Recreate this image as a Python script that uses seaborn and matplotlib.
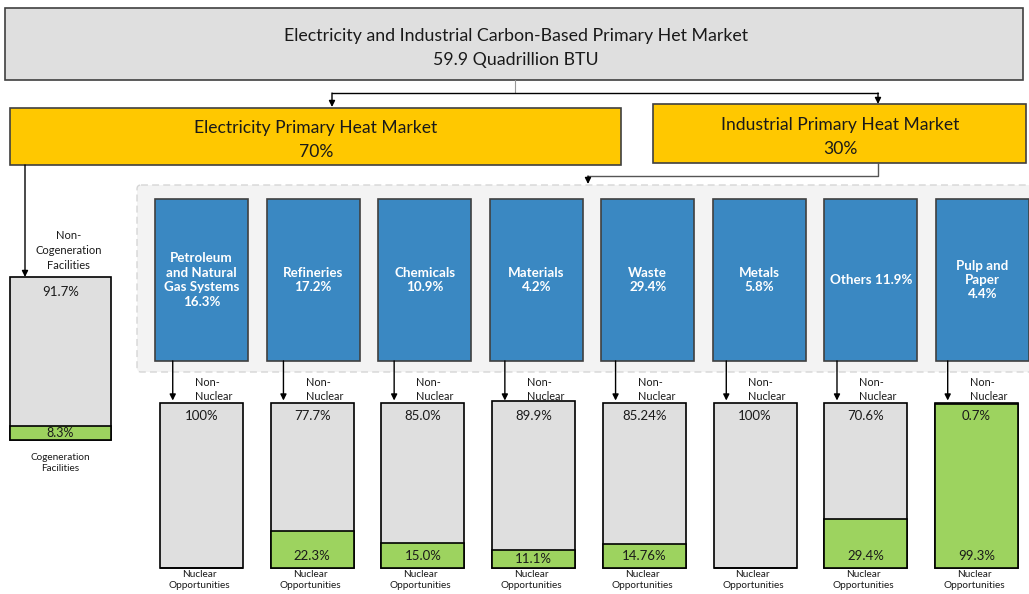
import matplotlib
matplotlib.use("Agg")
import matplotlib.pyplot as plt
import seaborn as sns
import pandas as pd
from matplotlib.patches import Rectangle, FancyBboxPatch

sns.set_style("white")
plt.rcParams['font.family'] = ['Lato', 'DejaVu Sans']

# ---- data ----
total_market = "59.9 Quadrillion BTU"
electricity_share = 70
industrial_share = 30

cogeneration = 8.3
non_cogeneration = 91.7

sectors = ["Petroleum\nand Natural\nGas Systems", "Refineries", "Chemicals", "Materials",
           "Waste", "Metals", "Others", "Pulp and\nPaper"]
sector_share = [16.3, 17.2, 10.9, 4.2, 29.4, 5.8, 11.9, 4.4]
non_nuclear = [100, 77.7, 85.0, 89.9, 85.24, 100, 70.6, 0.7]
nuclear = [0, 22.3, 15.0, 11.1, 14.76, 0, 29.4, 99.3]
non_nuclear_labels = ["100%", "77.7%", "85.0%", "89.9%", "85.24%", "100%", "70.6%", "0.7%"]
nuclear_labels = ["", "22.3%", "15.0%", "11.1%", "14.76%", "", "29.4%", "99.3%"]

# ---- style ----
GRAY = "#dfdfdf"
GREEN = "#9dd35f"
BLUE = "#3a88c2"
GOLD = "#ffc800"
EDGE = "#404040"
TXT = "#1a1a1a"

W, H = 1029, 594
fig = plt.figure(figsize=(W / 100, H / 100), dpi=100)


def px_axes(x, y, w, h):
    """add axes from pixel box (top-left origin)"""
    return fig.add_axes([x / W, 1 - (y + h) / H, w / W, h / H])


# overlay axes in pixel coordinates for boxes and connectors
ov = px_axes(0, 0, W, H)
ov.set_xlim(0, W)
ov.set_ylim(H, 0)
ov.axis("off")


def box(x0, y0, x1, y1, fc, lw=1.2):
    ov.add_patch(Rectangle((x0, y0), x1 - x0, y1 - y0, facecolor=fc, edgecolor=EDGE, lw=lw))


def arrow(x0, y0, x1, y1, lw=1.0, color="black"):
    ov.annotate("", xy=(x1, y1), xytext=(x0, y0),
                arrowprops=dict(arrowstyle="-|>", color=color, lw=lw, mutation_scale=9,
                                shrinkA=0, shrinkB=0))


# top box
box(5, 8, 1023, 80, GRAY)
ov.text(516, 48, "Electricity and Industrial Carbon-Based Primary Het Market\n" + total_market,
        ha="center", va="center", fontsize=12.8, color=TXT, linespacing=1.55)

# connectors from top box
ov.plot([515, 515], [80, 93], color="#999999", lw=0.8)
ov.plot([332, 878], [93, 93], color="black", lw=1.0)
arrow(332, 93, 332, 107)
arrow(878, 93, 878, 104)

# market boxes
box(10, 108, 621, 165, GOLD)
ov.text(316, 140, f"Electricity Primary Heat Market\n{electricity_share}%",
        ha="center", va="center", fontsize=12.6, color=TXT, linespacing=1.55)
box(653, 104, 1026, 163, GOLD)
ov.text(840, 137, f"Industrial Primary Heat Market\n{industrial_share}%",
        ha="center", va="center", fontsize=12.6, color=TXT, linespacing=1.55)

# industrial connector
ov.plot([878, 878, 588], [163, 176, 176], color="#555555", lw=1.0)
arrow(588, 176, 588, 184)

# electricity connector to cogeneration bar
arrow(25, 165, 25, 277)

# dashed sector region
ov.add_patch(FancyBboxPatch((137, 185), 920, 187, boxstyle="round,pad=0,rounding_size=4",
                            facecolor="#f3f3f3", edgecolor="#d6d6d6", lw=1.0, ls=(0, (5, 3))))

# ---- sector boxes ----
box_w = 0.833
axs = px_axes(155, 199, 874, 162)
axs.set_xlim(-box_w / 2, len(sectors) - 1 + box_w / 2)
axs.set_ylim(0, 1)
axs.axis("off")
for i, (name, share) in enumerate(zip(sectors, sector_share)):
    axs.add_patch(Rectangle((i - box_w / 2, 0), box_w, 1, facecolor=BLUE, edgecolor=EDGE,
                            lw=1.2, clip_on=False))
    label = f"{name} {share}%" if name == "Others" else f"{name}\n{share}%"
    axs.text(i, 0.5, label, ha="center", va="center", color="white", fontsize=9.6,
             fontweight="bold", linespacing=1.25)

# ---- cogeneration bar ----
axc = px_axes(10, 277, 101, 163)
cog = pd.DataFrame({"group": ["Electricity"], "total": [non_cogeneration + cogeneration],
                    "cog": [cogeneration]})
sns.barplot(data=cog, x="group", y="total", color=GRAY, width=1, saturation=1,
            edgecolor="black", linewidth=1.2, ax=axc)
sns.barplot(data=cog, x="group", y="cog", color=GREEN, width=1, saturation=1,
            edgecolor="black", linewidth=1.2, ax=axc)
axc.set_xlim(-0.5, 0.5)
axc.set_ylim(0, 100)
axc.axis("off")
for p in axc.patches:
    p.set_clip_on(False)
tr = axc.get_xaxis_transform()
axc.text(0, 0.905, f"{non_cogeneration}%", transform=tr, ha="center", va="center",
         fontsize=9.5, color=TXT)
axc.text(0, cogeneration / 2, f"{cogeneration}%", ha="center", va="center",
         fontsize=9, color=TXT, zorder=5)
axc.text(0.08, 1.16, "Non-\nCogeneration\nFacilities", transform=tr, ha="center",
         va="center", fontsize=8, color=TXT, linespacing=1.45, clip_on=False)
axc.text(0, -0.14, "Cogeneration\nFacilities", transform=tr, ha="center", va="center",
         fontsize=7.2, color=TXT, linespacing=1.3, clip_on=False)

# ---- sector nuclear bars ----
bar_w = 0.75
axb = px_axes(160, 403, 858, 165)
df = pd.DataFrame({"sector": sectors,
                   "total": [a + b for a, b in zip(non_nuclear, nuclear)],
                   "nuclear": nuclear})
sns.barplot(data=df, x="sector", y="total", color=GRAY, width=bar_w, saturation=1,
            edgecolor="black", linewidth=1.2, ax=axb)
sns.barplot(data=df, x="sector", y="nuclear", color=GREEN, width=bar_w, saturation=1,
            edgecolor="black", linewidth=1.2, ax=axb)
axb.set_xlim(-bar_w / 2, len(sectors) - 1 + bar_w / 2)
axb.set_ylim(0, 100)
axb.axis("off")
for p in axb.patches:
    p.set_clip_on(False)

tr = axb.get_xaxis_transform()
for i in range(len(sectors)):
    axb.text(i, 0.92, non_nuclear_labels[i], transform=tr, ha="center", va="center",
             fontsize=9.5, color=TXT)
    if nuclear_labels[i]:
        axb.text(i, min(7.5, nuclear[i] / 2), nuclear_labels[i], ha="center", va="center",
                 fontsize=9.5, color=TXT, zorder=5)
    axb.text(i - 0.06, 1.082, "Non-\nNuclear", transform=tr, ha="left", va="center",
             fontsize=7.8, color=TXT, linespacing=1.3, clip_on=False)
    axb.text(i - 0.02, -0.075, "Nuclear\nOpportunities", transform=tr, ha="center",
             va="center", fontsize=7.2, color=TXT, linespacing=1.3, clip_on=False)
    axb.annotate("", xy=(i - 0.26, 1.015), xytext=(i - 0.26, 1.255), xycoords=tr,
                 arrowprops=dict(arrowstyle="-|>", color="black", lw=1.0, mutation_scale=9,
                                 shrinkA=0, shrinkB=0))

fig.savefig("out.png", dpi=100)
